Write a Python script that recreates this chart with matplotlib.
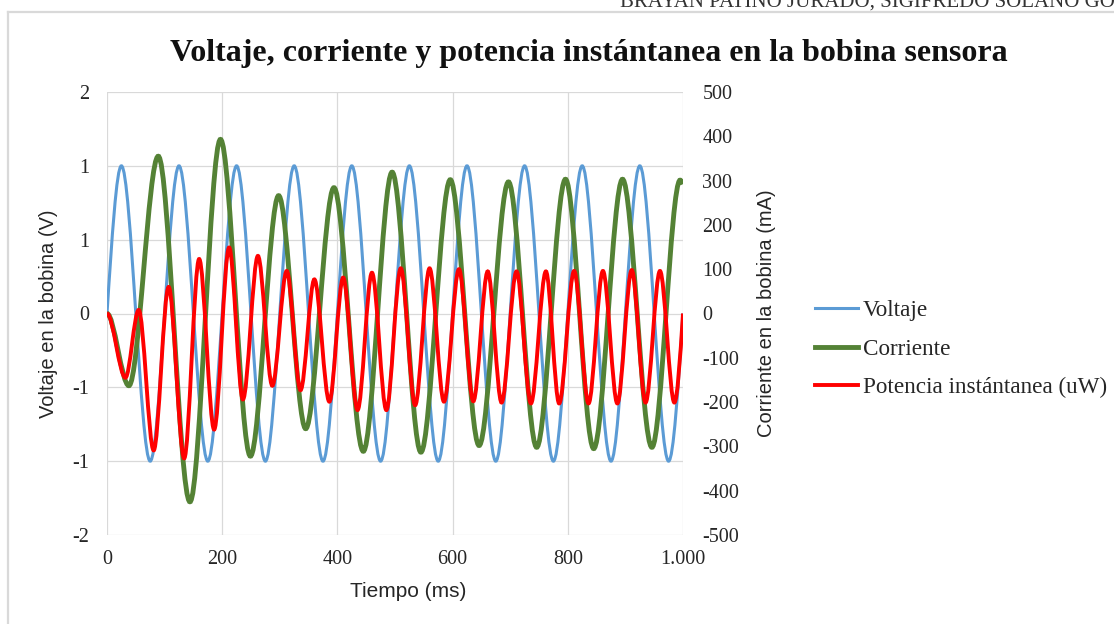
import matplotlib
matplotlib.use("Agg")
import matplotlib.pyplot as plt
from matplotlib.path import Path
from matplotlib.patches import PathPatch
from matplotlib.lines import Line2D

# valores (extremos de cada curva)
t_volt = [0, 25, 75, 125, 175, 225, 275, 325, 375, 425, 475, 525, 575, 625, 675,
          725, 775, 825, 875, 925, 975, 1000]
volt = [0, 1, -1, 1, -1, 1, -1, 1, -1, 1, -1, 1, -1, 1, -1,
        1, -1, 1, -1, 1, -1, 0]

t_corr = [0, 38, 89, 144, 197, 249, 298, 345, 394, 445, 495, 545, 596, 646, 697,
          746, 796, 845, 895, 946, 995, 1000]
corr = [0, -163, 355, -425, 393, -322, 266, -260, 284, -311, 319, -313, 302, -298, 297,
        -302, 303, -305, 303, -302, 301, 292]

t_pot = [0, 32, 55, 81, 107, 134, 160, 186, 212, 236, 262, 287, 312, 336, 360, 386,
         410, 435, 460, 485, 510, 535, 560, 585, 611, 636, 661, 685, 711, 736, 762,
         785, 811, 836, 861, 886, 911, 935, 960, 985, 1000]
pot = [0, -145, 8, -309, 60, -327, 123, -262, 149, -194, 130, -163, 96, -173, 77, -199,
       81, -218, 92, -218, 102, -207, 102, -199, 100, -198, 95, -201, 95, -203, 95,
       -203, 96, -203, 96, -203, 98, -201, 96, -201, 0]

x_ticks = [0, 200, 400, 600, 800, 1000]
x_labels = ["0", "200", "400", "600", "800", "1.000"]
y1_ticks = [-1.5, -1, -0.5, 0, 0.5, 1, 1.5]
y1_labels = ["-2", "-1", "-1", "0", "1", "1", "2"]
y2_ticks = [-500, -400, -300, -200, -100, 0, 100, 200, 300, 400, 500]
y2_labels = ["-500", "-400", "-300", "-200", "-100", "0", "100", "200", "300", "400", "500"]

serif = ["Liberation Serif", "DejaVu Serif"]
sans = ["Liberation Sans", "DejaVu Sans"]
txt_col = "#262626"


def linea_suave(xs, ys, flat_start=False):
    # linea suavizada tipo Excel (bezier por los puntos)
    n = len(xs)
    m = [0.0] * n
    for i in range(1, n - 1):
        if (ys[i] - ys[i - 1]) * (ys[i + 1] - ys[i]) <= 0:
            m[i] = 0.0
        else:
            m[i] = (ys[i + 1] - ys[i - 1]) / (xs[i + 1] - xs[i - 1])
    if not flat_start:
        m[0] = 1.5 * (ys[1] - ys[0]) / (xs[1] - xs[0]) - m[1] / 2
    m[-1] = 1.5 * (ys[-1] - ys[-2]) / (xs[-1] - xs[-2]) - m[-2] / 2
    verts = [(xs[0], ys[0])]
    codes = [Path.MOVETO]
    for i in range(n - 1):
        h = (xs[i + 1] - xs[i]) / 3
        verts += [(xs[i] + h, ys[i] + m[i] * h),
                  (xs[i + 1] - h, ys[i + 1] - m[i + 1] * h),
                  (xs[i + 1], ys[i + 1])]
        codes += [Path.CURVE4] * 3
    return Path(verts, codes)


fig = plt.figure(figsize=(11.14, 6.24), dpi=100)
ax = fig.add_axes([107 / 1114, 1 - 535 / 624, 576 / 1114, 443 / 624])
ax2 = ax.twinx()

ax.set_xlim(0, 1000)
ax.set_ylim(-1.5, 1.5)
ax2.set_ylim(-500, 500)

ax.set_xticks(x_ticks)
ax.set_xticklabels(x_labels)
ax.set_yticks(y1_ticks)
ax.set_yticklabels(y1_labels)
ax2.set_yticks(y2_ticks)
ax2.set_yticklabels(y2_labels)

ax.grid(True, color="#d9d9d9", lw=0.9)
ax.set_axisbelow(True)
for a in (ax, ax2):
    for s in a.spines.values():
        s.set_visible(False)
ax.tick_params(axis="both", length=0, labelsize=14.5, colors=txt_col)
ax.tick_params(axis="y", pad=13)
ax.tick_params(axis="x", pad=11)
ax2.tick_params(axis="y", length=0, labelsize=14.5, colors=txt_col, pad=14)
for lab in ax.get_xticklabels() + ax.get_yticklabels() + ax2.get_yticklabels():
    lab.set_family(serif)

c_volt = "#5b9bd5"
c_corr = "#548235"
c_pot = "#ff0000"

ax.add_patch(PathPatch(linea_suave(t_volt, volt), fc="none", ec=c_volt, lw=2.2))
ax2.add_patch(PathPatch(linea_suave(t_corr, corr, flat_start=True), fc="none", ec=c_corr, lw=3.5))
ax2.add_patch(PathPatch(linea_suave(t_pot, pot, flat_start=True), fc="none", ec=c_pot, lw=2.8))

ax.set_xlabel("Tiempo (ms)", fontsize=15, family=sans, color=txt_col)
ax.xaxis.set_label_coords(0.523, -0.106)
ax.set_ylabel("Voltaje en la bobina (V)", fontsize=14.5, family=sans, color=txt_col)
ax.yaxis.set_label_coords(-0.085, 0.5)
ax2.set_ylabel("Corriente en la bobina (mA)", fontsize=14.5, family=sans, color=txt_col)
ax2.yaxis.set_label_coords(1.128, 0.5)

fig.text(589 / 1114, 1 - 53 / 624, "Voltaje, corriente y potencia instántanea en la bobina sensora",
         ha="center", va="center", fontsize=23, fontweight="bold", family=serif, color="#111111")

# encabezado del documento, cortado arriba
fig.text(620 / 1114, 1 - 7 / 624, "BRAYAN PATIÑO JURADO, SIGIFREDO SOLANO GÓMEZ",
         ha="left", va="baseline", fontsize=15, family=serif, color="#333333")

# marco de la pagina
fig.add_artist(Line2D([8 / 1114, 1], [1 - 12 / 624, 1 - 12 / 624], color="#d9d9d9", lw=1.6))
fig.add_artist(Line2D([8 / 1114, 8 / 1114], [0, 1 - 12 / 624], color="#d9d9d9", lw=1.6))

handles = [Line2D([], [], color=c_volt, lw=2.2),
           Line2D([], [], color=c_corr, lw=3.5),
           Line2D([], [], color=c_pot, lw=2.8)]
fig.legend(handles, ["Voltaje", "Corriente", "Potencia instántanea (uW)"],
           loc="center left", bbox_to_anchor=(815 / 1114, 1 - 349 / 624),
           frameon=False, borderpad=0, borderaxespad=0, handlelength=1.85,
           handletextpad=0.22, labelspacing=0.75,
           prop={"family": serif, "size": 16.7}, labelcolor=txt_col)

fig.savefig("out.png", dpi=100)
